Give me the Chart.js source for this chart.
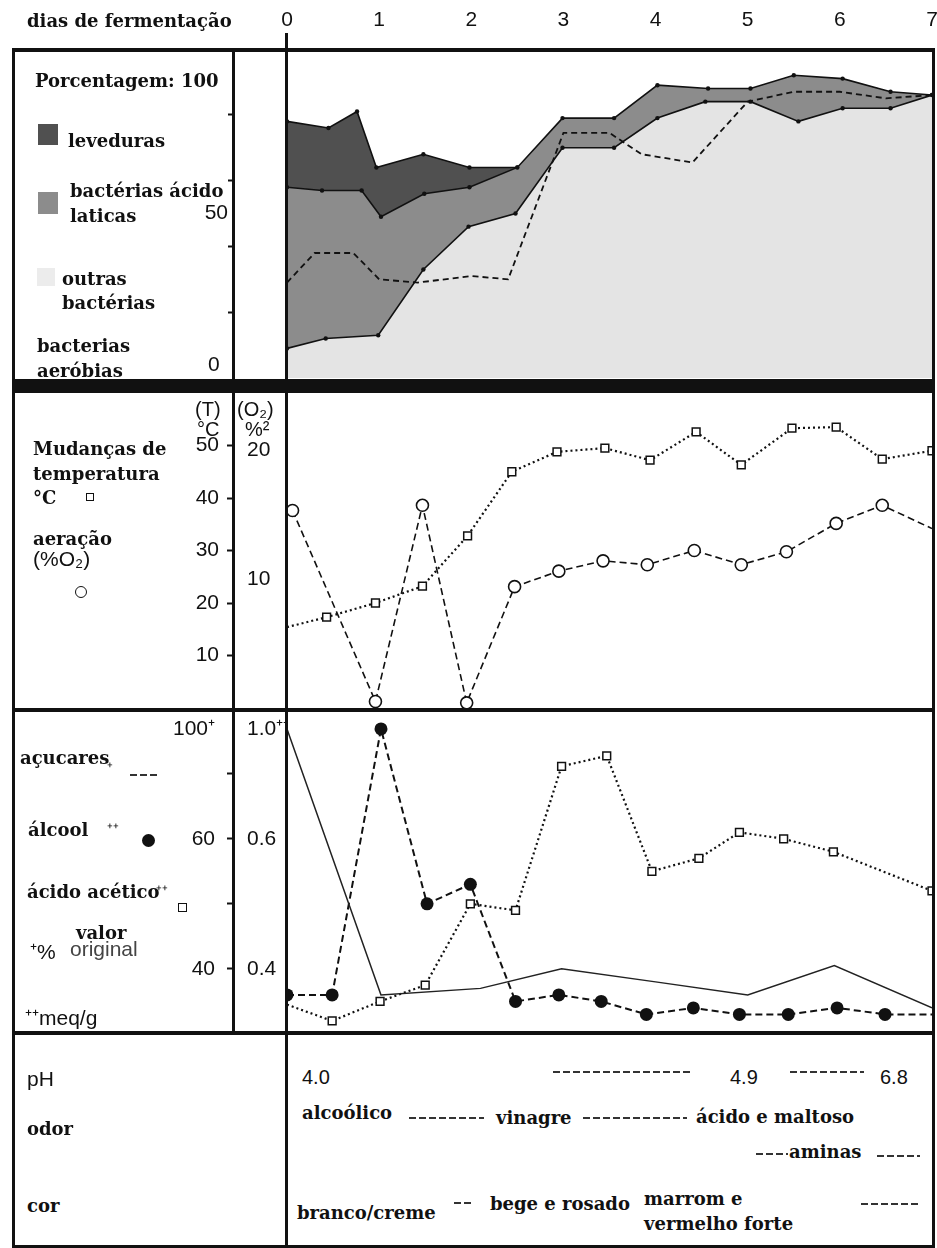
<!DOCTYPE html>
<html lang="pt">
<head>
<meta charset="utf-8">
<title>Dias de fermentação</title>
<script src="https://cdn.jsdelivr.net/npm/chart.js@4.4.1/dist/chart.umd.min.js"></script>
<style>
  html, body { margin: 0; padding: 0; background: #fff; }
  #page { position: relative; width: 937px; height: 1248px; overflow: hidden; background: #fff; }
  .plot { position: absolute; left: 12px; width: 925px; }
  .ln { position: absolute; background: #111; z-index: 2; }
  .t { position: absolute; z-index: 3; white-space: nowrap; color: #111; line-height: 1; }
  .serif { font: bold 18px 'DejaVu Serif', serif; }
  .sans { font: 21px 'Liberation Sans', Arial, sans-serif; }
  .dash { position: absolute; height: 2px; z-index: 3;
          background: repeating-linear-gradient(90deg, #333 0 7px, transparent 7px 10px); }
  .mk { position: absolute; z-index: 3; box-sizing: border-box; }
</style>
</head>
<body>
<div id="page">
  <div class="plot" style="top:0;height:378px"><canvas id="c1"></canvas></div>
  <div class="plot" style="top:393px;height:321px"><canvas id="c2"></canvas></div>
  <div class="plot" style="top:712px;height:324px"><canvas id="c3"></canvas></div>

  <!-- moldura -->
  <div class="ln" style="left:12px;top:48px;width:923px;height:4px"></div>
  <div class="ln" style="left:12px;top:48px;width:3px;height:1200px"></div>
  <div class="ln" style="left:932px;top:48px;width:3px;height:1200px"></div>
  <div class="ln" style="left:232px;top:48px;width:3px;height:986px"></div>
  <div class="ln" style="left:285px;top:33px;width:3px;height:1215px"></div>
  <div class="ln" style="left:12px;top:379px;width:923px;height:14px"></div>
  <div class="ln" style="left:12px;top:708px;width:923px;height:4px"></div>
  <div class="ln" style="left:12px;top:1031px;width:923px;height:4px"></div>
  <div class="ln" style="left:12px;top:1245px;width:923px;height:3px"></div>

  <!-- painel 1 -->
  <span class="t serif" style="left:27px;top:10px">dias de fermentação</span>
  <span class="t serif" style="left:35px;top:70px">Porcentagem: 100</span>
  <div class="mk" style="left:38px;top:124px;width:20px;height:21px;background:#505050"></div>
  <span class="t serif" style="left:68px;top:130px">leveduras</span>
  <div class="mk" style="left:38px;top:192px;width:20px;height:22px;background:#8c8c8c"></div>
  <span class="t serif" style="left:70px;top:180px">bactérias ácido</span>
  <span class="t serif" style="left:70px;top:205px">laticas</span>
  <div class="mk" style="left:37px;top:268px;width:18px;height:18px;background:#ececec"></div>
  <span class="t serif" style="left:62px;top:268px">outras</span>
  <span class="t serif" style="left:62px;top:292px">bactérias</span>
  <span class="t serif" style="left:37px;top:335px">bacterias</span>
  <span class="t serif" style="left:37px;top:360px">aeróbias</span>
  <span class="t sans" style="left:208px;top:352px">0</span>

  <!-- painel 2 -->
  <span class="t sans" style="left:195px;top:398px;font-size:20px">(T)</span>
  <span class="t sans" style="left:197px;top:418px;font-size:20px">°C</span>
  <span class="t sans" style="left:237px;top:398px;font-size:20px">(O₂)</span>
  <span class="t sans" style="left:245px;top:418px;font-size:20px">%²</span>
  <span class="t serif" style="left:33px;top:438px">Mudanças de</span>
  <span class="t serif" style="left:33px;top:463px">temperatura</span>
  <span class="t serif" style="left:33px;top:487px">°C</span>
  <div class="mk" style="left:86px;top:493px;width:8px;height:8px;border:1.5px solid #111;background:#fff"></div>
  <span class="t serif" style="left:33px;top:528px">aeração</span>
  <span class="t sans" style="left:33px;top:547px">(%O₂)</span>
  <div class="mk" style="left:75px;top:586px;width:12px;height:12px;border:1.5px solid #111;border-radius:50%;background:#fff"></div>

  <!-- painel 3 -->
  <span class="t serif" style="left:20px;top:747px">açucares</span>
  <span class="t sans" style="left:107px;top:757px;font-size:17px">⁺</span>
  <div class="dash" style="left:130px;top:774px;width:28px"></div>
  <span class="t serif" style="left:28px;top:819px">álcool</span>
  <span class="t sans" style="left:107px;top:818px;font-size:17px">⁺⁺</span>
  <div class="mk" style="left:142px;top:834px;width:13px;height:13px;border-radius:50%;background:#111"></div>
  <span class="t serif" style="left:27px;top:881px">ácido acético</span>
  <span class="t sans" style="left:156px;top:880px;font-size:17px">⁺⁺</span>
  <div class="mk" style="left:178px;top:903px;width:9px;height:9px;border:1.5px solid #111;background:#fff"></div>
  <span class="t serif" style="left:76px;top:922px">valor</span>
  <span class="t sans" style="left:30px;top:937px">⁺%</span>
  <span class="t sans" style="left:70px;top:937px;color:#444">original</span>
  <span class="t sans" style="left:25px;top:1003px">⁺⁺meq/g</span>

  <!-- painel 4 -->
  <span class="t sans" style="left:27px;top:1067px">pH</span>
  <span class="t sans" style="left:302px;top:1066px;font-size:20px">4.0</span>
  <div class="dash" style="left:553px;top:1071px;width:140px"></div>
  <span class="t sans" style="left:730px;top:1066px;font-size:20px">4.9</span>
  <div class="dash" style="left:790px;top:1071px;width:74px"></div>
  <span class="t sans" style="left:880px;top:1066px;font-size:20px">6.8</span>

  <span class="t serif" style="left:27px;top:1118px">odor</span>
  <span class="t serif" style="left:302px;top:1102px">alcoólico</span>
  <div class="dash" style="left:409px;top:1117px;width:75px"></div>
  <span class="t serif" style="left:496px;top:1107px">vinagre</span>
  <div class="dash" style="left:583px;top:1117px;width:104px"></div>
  <span class="t serif" style="left:696px;top:1106px">ácido e maltoso</span>
  <div class="dash" style="left:756px;top:1153px;width:32px"></div>
  <span class="t serif" style="left:789px;top:1141px">aminas</span>
  <div class="dash" style="left:877px;top:1155px;width:43px"></div>

  <span class="t serif" style="left:27px;top:1195px">cor</span>
  <span class="t serif" style="left:297px;top:1202px">branco/creme</span>
  <div class="dash" style="left:454px;top:1202px;width:18px"></div>
  <span class="t serif" style="left:490px;top:1193px">bege e rosado</span>
  <span class="t serif" style="left:644px;top:1188px">marrom e</span>
  <span class="t serif" style="left:644px;top:1213px">vermelho forte</span>
  <div class="dash" style="left:861px;top:1203px;width:59px"></div>
</div>

<script>
// valores (eixo x em dias de fermentação)
const diasTicks = [0, 1, 2, 3, 4, 5, 6, 7];

// painel 1: limite superior de cada faixa acumulada (%)
const outrasDias = [0, 0.42, 0.99, 1.48, 1.97, 2.48, 2.99, 3.55, 4.02, 4.54, 5.03, 5.55, 6.03, 6.55, 7];
const outrasTopo = [9, 12, 13, 33, 46, 50, 70, 70, 79, 84, 84, 78, 82, 82, 86];
const laticasDias = [0, 0.38, 0.81, 1.02, 1.49, 1.98, 2.5, 2.99, 3.55, 4.02, 4.57, 5.03, 5.5, 6.03, 6.55, 7];
const laticasTopo = [58, 57, 57, 49, 56, 58, 64, 79, 79, 89, 88, 88, 92, 91, 87, 86];
const levedurasDias = [0, 0.45, 0.76, 0.97, 1.48, 1.98, 2.5];
const levedurasTopo = [78, 76, 81, 64, 68, 64, 64];
const aerobiasDias = [0, 0.3, 0.72, 1, 1.42, 2, 2.4, 3, 3.5, 3.85, 4.4, 5, 5.5, 6, 6.5, 7];
const aerobias = [29, 38, 38, 30, 29, 31, 30, 74.5, 74.5, 68, 65.5, 84, 87, 87, 85, 86];
const pctTicks = [20, 40, 50, 60, 80];

// painel 2: temperatura (°C) e aeração (% O2)
const tempDias = [0, 0.43, 0.96, 1.47, 1.96, 2.44, 2.93, 3.45, 3.94, 4.44, 4.93, 5.48, 5.96, 6.46, 7];
const temperatura = [15.4, 17.3, 20, 23.2, 32.8, 45, 48.8, 49.5, 47.2, 52.6, 46.3, 53.3, 53.5, 47.4, 49];
const o2Dias = [0.06, 0.96, 1.47, 1.95, 2.47, 2.95, 3.43, 3.91, 4.42, 4.93, 5.42, 5.96, 6.46, 7];
const oxigenio = [15.3, 0.5, 15.7, 0.4, 9.4, 10.6, 11.4, 11.1, 12.2, 11.1, 12.1, 14.3, 15.7, 13.9];
const tempTicks = [10, 20, 30, 40, 50];
const o2Ticks = [10, 20];

// painel 3: açucares (% do valor original), álcool e ácido acético (meq/g)
const acucarDias = [0, 1.02, 2.1, 2.98, 4, 5, 5.94, 7];
const acucares = [100, 36, 37, 40, 38, 36, 40.5, 34];
const alcoolDias = [0, 0.49, 1.02, 1.52, 1.99, 2.48, 2.95, 3.41, 3.9, 4.41, 4.91, 5.44, 5.97, 6.49, 7];
const alcool = [0.36, 0.36, 1.0, 0.50, 0.53, 0.35, 0.36, 0.35, 0.33, 0.34, 0.33, 0.33, 0.34, 0.33, 0.33];
const aceticoDias = [0, 0.49, 1.01, 1.5, 1.99, 2.48, 2.98, 3.47, 3.96, 4.47, 4.91, 5.39, 5.93, 7];
const acetico = [0.345, 0.32, 0.35, 0.375, 0.50, 0.49, 0.75, 0.82, 0.55, 0.57, 0.61, 0.60, 0.58, 0.52];
const pctAxisTicks = [40, 50, 60, 70, 100];
const meqTicks = [0.4, 0.5, 0.6, 0.7, 1.0];

const pts = (xs, ys) => xs.map((x, i) => ({ x: x, y: ys[i] }));
const INK = '#111';

Chart.defaults.font.family = "'Liberation Sans', Arial, sans-serif";
Chart.defaults.font.size = 21;
Chart.defaults.color = INK;

// eixo com quebra: acima de breakAt a escala fica comprimida (como no original)
class BrokenScale extends Chart.LinearScale {
  warp(v) {
    const b = this.options.breakAt, k = this.options.squeeze;
    return v <= b ? v : b + (v - b) * k;
  }
  getPixelForValue(value) {
    if (value === null || isNaN(value)) return NaN;
    const lo = this.warp(this.min), hi = this.warp(this.max);
    return this.getPixelForDecimal((this.warp(value) - lo) / (hi - lo));
  }
  getValueForPixel(pixel) {
    const lo = this.warp(this.min), hi = this.warp(this.max);
    const w = lo + this.getDecimalForPixel(pixel) * (hi - lo);
    const b = this.options.breakAt, k = this.options.squeeze;
    return w <= b ? w : b + (w - b) / k;
  }
}
BrokenScale.id = 'broken';
BrokenScale.defaults = {};
Chart.register(BrokenScale);

const setTicks = list => scale => { scale.ticks = list.map(v => ({ value: v })); };
const markAt = list => ctx => (ctx.tick && list.includes(ctx.tick.value)) ? INK : 'rgba(0,0,0,0)';
// tamanho fixo das caixas dos eixos, sem folga extra para rótulos
const fixBox = (w, h) => s => {
  if (w !== null) s.width = w;
  if (h !== null) s.height = h;
  s.paddingTop = s.paddingBottom = s.paddingLeft = s.paddingRight = 0;
};
const spacer = (w, weight) => ({
  type: 'linear', position: 'left', weight: weight, min: 0, max: 1,
  afterFit: fixBox(w, null),
  ticks: { display: false }, grid: { display: false, drawTicks: false }, border: { display: false }
});
const hiddenX = { type: 'linear', min: 0, max: 7, display: false };

const base = {
  animation: false,
  responsive: true,
  maintainAspectRatio: false,
  events: [],
  plugins: { legend: { display: false }, tooltip: { enabled: false } }
};

// ---------- painel 1: populações ----------
const bandLine = (label, xs, ys, fill, color) => ({
  label: label,
  data: pts(xs, ys),
  borderColor: INK,
  borderWidth: 1.6,
  pointRadius: 2.2,
  pointBackgroundColor: INK,
  pointBorderWidth: 0,
  backgroundColor: color,
  fill: fill,
  tension: 0
});

new Chart(document.getElementById('c1'), {
  type: 'line',
  data: {
    datasets: [
      {
        label: 'bacterias aeróbias',
        data: pts(aerobiasDias, aerobias),
        yAxisID: 'yAer',
        borderColor: INK,
        borderWidth: 1.8,
        borderDash: [6, 4],
        pointRadius: 0,
        fill: false
      },
      bandLine('outras bactérias', outrasDias, outrasTopo, 'origin', '#e4e4e4'),
      bandLine('bactérias ácido laticas', laticasDias, laticasTopo, 1, '#8c8c8c'),
      bandLine('leveduras', levedurasDias, levedurasTopo, 2, '#505050')
    ]
  },
  options: Object.assign({}, base, {
    layout: { autoPadding: false, padding: { right: 5 } },
    scales: {
      x: {
        type: 'linear', position: 'top', min: 0, max: 7,
        afterBuildTicks: setTicks(diasTicks),
        afterFit: fixBox(null, 49),
        grid: { display: false, drawTicks: false },
        border: { display: false },
        ticks: { padding: 16, maxRotation: 0 }
      },
      y: {
        type: 'linear', position: 'left', weight: 1, min: 0, max: 100,
        afterBuildTicks: setTicks(pctTicks),
        afterFit: fixBox(222, null),
        ticks: { autoSkip: false, padding: 0, callback: v => (v === 50 ? '50' : '') },
        grid: { drawOnChartArea: false, tickLength: 6, tickWidth: 2, tickColor: markAt([20, 40, 60, 80]) },
        border: { display: false }
      },
      ySp: spacer(53, 0),
      yAer: { type: 'linear', display: false, min: 0, max: 100 }
    }
  })
});

// ---------- painel 2: temperatura e aeração ----------
new Chart(document.getElementById('c2'), {
  type: 'line',
  data: {
    datasets: [
      {
        label: 'temperatura °C',
        data: pts(tempDias, temperatura),
        yAxisID: 'yT',
        borderColor: INK,
        borderWidth: 2.2,
        borderDash: [2, 3],
        pointStyle: 'rect',
        pointRadius: ctx => (ctx.dataIndex === 0 ? 0 : 5.5),
        pointBackgroundColor: '#fff',
        pointBorderColor: INK,
        pointBorderWidth: 1.5
      },
      {
        label: 'aeração %O2',
        data: pts(o2Dias, oxigenio),
        yAxisID: 'yO',
        borderColor: INK,
        borderWidth: 1.6,
        borderDash: [7, 4],
        pointStyle: 'circle',
        pointRadius: ctx => (ctx.dataIndex === oxigenio.length - 1 ? 0 : 6),
        pointBackgroundColor: '#fff',
        pointBorderColor: INK,
        pointBorderWidth: 1.6
      }
    ]
  },
  options: Object.assign({}, base, {
    layout: { autoPadding: false, padding: { right: 5, bottom: 6 } },
    scales: {
      x: hiddenX,
      yT: {
        type: 'linear', position: 'left', weight: 2, min: 0, max: 60,
        afterBuildTicks: setTicks(tempTicks),
        afterFit: fixBox(222, null),
        ticks: { autoSkip: false, padding: 8 },
        grid: { drawOnChartArea: false, tickLength: 7, tickWidth: 2, tickColor: INK },
        border: { display: false }
      },
      ySp: spacer(13, 1),
      yO: {
        type: 'linear', position: 'left', weight: 0, min: 0, max: 24.4,
        afterBuildTicks: setTicks(o2Ticks),
        afterFit: fixBox(40, null),
        ticks: { autoSkip: false, crossAlign: 'far' },
        grid: { display: false, drawTicks: false },
        border: { display: false }
      }
    }
  })
});

// ---------- painel 3: açucares, álcool, ácido acético ----------
new Chart(document.getElementById('c3'), {
  type: 'line',
  data: {
    datasets: [
      {
        label: 'açucares',
        data: pts(acucarDias, acucares),
        yAxisID: 'yPct',
        borderColor: '#222',
        borderWidth: 1.5,
        pointRadius: 0
      },
      {
        label: 'álcool',
        data: pts(alcoolDias, alcool),
        yAxisID: 'yMeq',
        borderColor: INK,
        borderWidth: 2,
        borderDash: [7, 4],
        pointStyle: 'circle',
        pointRadius: ctx => (ctx.dataIndex === alcool.length - 1 ? 0 : 6.5),
        pointBackgroundColor: INK,
        pointBorderWidth: 0
      },
      {
        label: 'ácido acético',
        data: pts(aceticoDias, acetico),
        yAxisID: 'yMeq',
        borderColor: INK,
        borderWidth: 2.2,
        borderDash: [2, 3],
        pointStyle: 'rect',
        pointRadius: ctx => (ctx.dataIndex === 0 ? 0 : 5.5),
        pointBackgroundColor: '#fff',
        pointBorderColor: INK,
        pointBorderWidth: 1.5
      }
    ]
  },
  options: Object.assign({}, base, {
    layout: { autoPadding: false, padding: { right: 5, bottom: 6 } },
    scales: {
      x: hiddenX,
      yPct: {
        type: 'broken', position: 'left', weight: 2, min: 30.6, max: 111.3,
        breakAt: 70, squeeze: 0.23,
        afterBuildTicks: setTicks(pctAxisTicks),
        afterFit: fixBox(222, null),
        ticks: { autoSkip: false, padding: 12, callback: v => ({ 40: '40', 60: '60', 100: '100⁺' })[v] || '' },
        grid: { drawOnChartArea: false, tickLength: 7, tickWidth: 2, tickColor: markAt([40, 50, 60, 70]) },
        border: { display: false }
      },
      ySp: spacer(13, 1),
      yMeq: {
        type: 'broken', position: 'left', weight: 0, min: 0.306, max: 1.113,
        breakAt: 0.7, squeeze: 0.23,
        afterBuildTicks: setTicks(meqTicks),
        afterFit: fixBox(40, null),
        ticks: { autoSkip: false, crossAlign: 'far', callback: v => ({ 0.4: '0.4', 0.6: '0.6', 1: '1.0⁺⁺' })[v] || '' },
        grid: { display: false, drawTicks: false },
        border: { display: false }
      }
    }
  })
});
</script>
</body>
</html>
